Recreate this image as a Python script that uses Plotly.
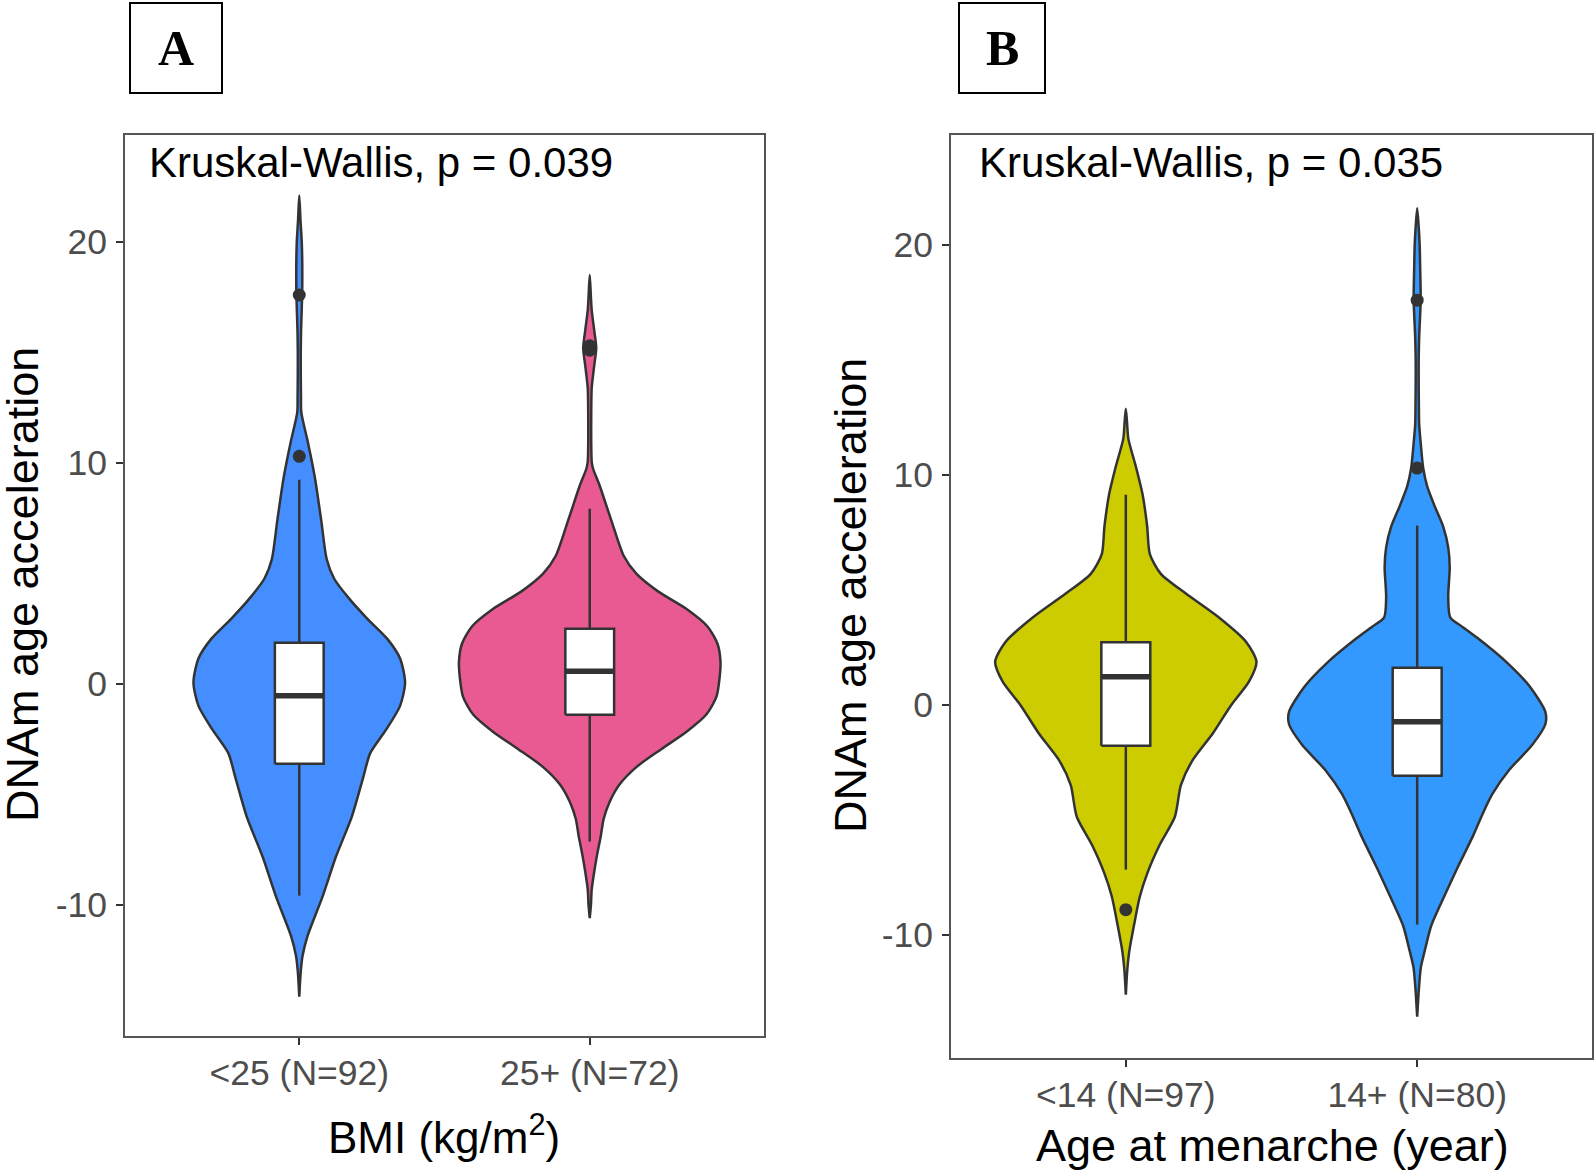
import plotly.graph_objects as go

W, H = 1594, 1170

# ---------------- data ----------------
cats_A = ["<25 (N=92)", "25+ (N=72)"]
cats_B = ["<14 (N=97)", "14+ (N=80)"]
yticks = [-10, 0, 10, 20]
yticklabels = ["-10", "0", "10", "20"]

# violin outlines: y value and half-width (density, read as px of half-width)
vA1_y = [22.1, 21.0, 20.0, 19.0, 18.0, 17.0, 16.0, 15.0, 14.0, 13.0, 12.3, 11.0, 10.2, 9.24, 7.4, 5.64,
         4.76, 3.86, 2.96, 2.05, 1.15, 0.07, -0.99, -2.07, -3.14, -4.24, -6.03, -7.82, -9.62, -11.4,
         -12.3, -13.0, -14.15]
vA1_d = [0, 1.2, 2.5, 3, 3, 2.5, 1.8, 1.5, 1.5, 1.7, 2, 8.3, 12, 16, 22, 27.5,
         35, 50, 68, 88, 101, 106, 101, 87, 71, 64, 52.5, 36.7, 23.3, 8.3,
         3.3, 1.5, 0]

vA2_y = [18.5, 17.5, 16.9, 16.0, 15.2, 14.4, 13.4, 12.0, 11.0, 10.05, 9.75, 8.97, 7.39, 5.8, 4.99, 4.2,
         3.4, 2.6, 1.82, 1.02, 0.23, -0.57, -1.37, -2.16, -2.94, -3.75, -4.54, -5.33, -6.1, -6.9,
         -7.7, -8.5, -9.3, -10.0, -10.6]
vA2_d = [0, 1.2, 2, 4.5, 6.5, 4.5, 2, 1.5, 1.5, 2, 3.3, 10, 21.7, 34, 46.7, 68,
         96.7, 118, 128, 131, 130, 127, 117, 97, 72, 47, 30, 20, 14, 11,
         7.5, 4.5, 2, 1.2, 0]

vB1_y = [12.88, 12.3, 11.58, 10.37, 9.16, 7.78, 6.56, 5.7, 4.84, 3.8, 2.75, 1.88, 1.01, -0.02, -1.23,
         -2.45, -3.49, -4.86, -6.07, -7.29, -8.33, -9.55, -10.76, -11.5, -12.6]
vB1_d = [0, 1.2, 2.5, 10, 16.7, 21.3, 24, 35, 60, 93, 120, 130.5, 123, 105, 87,
         66, 55, 49, 34, 21.7, 14, 8.3, 3.3, 1.5, 0]

vB2_y = [21.6, 20.8, 20.0, 19.0, 17.6, 16.0, 15.0, 14.0, 13.0, 12.2, 11.3, 10.3, 9.5, 8.64, 7.75, 6.85,
         5.97, 4.7, 3.81, 3.4, 2.92, 1.83, 0.77, -0.3, -0.84, -1.73, -2.82, -3.88, -4.77, -5.67,
         -7.1, -8.35, -9.6, -10.7, -11.4, -12.3, -13.55]
vB2_d = [0, 1.5, 2.5, 3, 3.5, 2, 1.5, 1.5, 1.7, 2, 3.7, 6, 10, 17.5, 26, 31,
         32.5, 31, 33, 45, 60, 90, 113, 128, 128, 115, 92, 75, 65, 56,
         40, 26.7, 14, 7.5, 3.7, 1.8, 0]

# box statistics: [group1, group2]
q1_A = [-3.61, -1.39]
med_A = [-0.53, 0.57]
q3_A = [1.87, 2.50]
lo_A = [-9.58, -7.13]
hi_A = [9.24, 7.93]
out_A = [[17.6, 10.3], [15.1, 15.3]]

q1_B = [-1.77, -3.08]
med_B = [1.23, -0.73]
q3_B = [2.73, 1.62]
lo_B = [-7.16, -9.55]
hi_B = [9.14, 7.80]
out_B = [[-8.9], [17.6, 10.3]]

p_A = "Kruskal-Wallis, p = 0.039"
p_B = "Kruskal-Wallis, p = 0.035"

# ---------------- styles ----------------
col_A = ["#448EFF", "#E95A93"]
col_B = ["#CCCC00", "#3399FF"]
DARK = "#333333"
DENS_TO_UNITS = 1 / 291.0
BOXW = 0.168
FONT = "Liberation Sans, Arial, sans-serif"


def px(x):
    return x / W


def py(y):
    return 1 - y / H


fig = go.Figure()


def add_violin(xa, ya, center, ys, ds, color):
    hw = [d * DENS_TO_UNITS for d in ds]
    xs = [center + w for w in hw] + [center - w for w in reversed(hw)]
    yy = list(ys) + list(reversed(ys))
    fig.add_trace(go.Scatter(x=xs, y=yy, xaxis=xa, yaxis=ya, mode="lines",
                             fill="toself", fillcolor=color,
                             line=dict(color=DARK, width=2.5, shape="spline", smoothing=0.7),
                             showlegend=False, hoverinfo="skip"))


def add_box(xa, ya, center, q1, med, q3, lo, hi, outs):
    fig.add_trace(go.Scatter(x=[center, center, None, center, center], y=[q3, hi, None, q1, lo],
                             xaxis=xa, yaxis=ya, mode="lines",
                             line=dict(color=DARK, width=2.5), showlegend=False, hoverinfo="skip"))
    l, r = center - BOXW / 2, center + BOXW / 2
    fig.add_trace(go.Scatter(x=[l, r, r, l, l], y=[q1, q1, q3, q3, q1], xaxis=xa, yaxis=ya,
                             mode="lines", fill="toself", fillcolor="white",
                             line=dict(color=DARK, width=2.5), showlegend=False, hoverinfo="skip"))
    fig.add_trace(go.Scatter(x=[l, r], y=[med, med], xaxis=xa, yaxis=ya, mode="lines",
                             line=dict(color=DARK, width=5.5), showlegend=False, hoverinfo="skip"))
    fig.add_trace(go.Scatter(x=[center] * len(outs), y=outs, xaxis=xa, yaxis=ya, mode="markers",
                             marker=dict(color=DARK, size=13), showlegend=False, hoverinfo="skip"))


vio_A = [(vA1_y, vA1_d), (vA2_y, vA2_d)]
vio_B = [(vB1_y, vB1_d), (vB2_y, vB2_d)]
for i in range(2):
    add_violin("x", "y", i + 1, vio_A[i][0], vio_A[i][1], col_A[i])
    add_box("x", "y", i + 1, q1_A[i], med_A[i], q3_A[i], lo_A[i], hi_A[i], out_A[i])
for i in range(2):
    add_violin("x2", "y2", i + 1, vio_B[i][0], vio_B[i][1], col_B[i])
    add_box("x2", "y2", i + 1, q1_B[i], med_B[i], q3_B[i], lo_B[i], hi_B[i], out_B[i])

axis_common = dict(showline=True, mirror=True, linecolor="#555555", linewidth=1.6,
                   showgrid=False, zeroline=False, ticks="outside", ticklen=7, tickwidth=1.5,
                   tickcolor=DARK, tickfont=dict(family=FONT, size=35.5, color="#4D4D4D"))

fig.update_layout(
    width=W, height=H, margin=dict(l=0, r=0, t=0, b=0),
    paper_bgcolor="white", plot_bgcolor="white", showlegend=False,
    xaxis=dict(domain=[px(125), px(764)], range=[0.4, 2.6], anchor="y",
               tickvals=[1, 2], ticktext=cats_A, ticklabelstandoff=-2, **axis_common),
    yaxis=dict(domain=[py(1036), py(135)], range=[-15.93, 24.84], anchor="x",
               tickvals=yticks, ticktext=yticklabels, ticklabelstandoff=2, **axis_common),
    xaxis2=dict(domain=[px(951), px(1592)], range=[0.4, 2.6], anchor="y2",
                tickvals=[1, 2], ticktext=cats_B, ticklabelstandoff=-2, **axis_common),
    yaxis2=dict(domain=[py(1058), py(135)], range=[-15.35, 24.78], anchor="x2",
                tickvals=yticks, ticktext=yticklabels, ticklabelstandoff=2, **axis_common),
)

ann = [
    dict(x=px(147), y=py(163), text=p_A, xanchor="left", yanchor="middle",
         font=dict(family=FONT, size=42, color="black")),
    dict(x=px(977), y=py(163), text=p_B, xanchor="left", yanchor="middle",
         font=dict(family=FONT, size=42, color="black")),
    dict(x=px(22), y=py(585), text="DNAm age acceleration", textangle=-90,
         xanchor="center", yanchor="middle", font=dict(family=FONT, size=45, color="black")),
    dict(x=px(850), y=py(596), text="DNAm age acceleration", textangle=-90,
         xanchor="center", yanchor="middle", font=dict(family=FONT, size=45, color="black")),
    dict(x=px(444), y=py(1134), text="BMI (kg/m<sup>2</sup>)", xanchor="center", yanchor="middle",
         font=dict(family=FONT, size=44, color="black")),
    dict(x=px(1272), y=py(1145), text="Age at menarche (year)", xanchor="center", yanchor="middle",
         font=dict(family=FONT, size=45, color="black")),
    dict(x=px(176), y=py(48), text="<b>A</b>", xanchor="center", yanchor="middle",
         font=dict(family="Liberation Serif, Times New Roman, serif", size=50, color="black")),
    dict(x=px(1002), y=py(48), text="<b>B</b>", xanchor="center", yanchor="middle",
         font=dict(family="Liberation Serif, Times New Roman, serif", size=50, color="black")),
]
for a in ann:
    a.update(xref="paper", yref="paper", showarrow=False)
fig.update_layout(annotations=ann)

fig.update_layout(shapes=[
    dict(type="rect", xref="paper", yref="paper", x0=px(130), x1=px(222), y0=py(93), y1=py(3),
         line=dict(color="black", width=2)),
    dict(type="rect", xref="paper", yref="paper", x0=px(959), x1=px(1045), y0=py(93), y1=py(3),
         line=dict(color="black", width=2)),
])

fig.write_html("out.html", config={"displayModeBar": False},
               post_script="document.body.style.margin='0';document.body.style.overflow='hidden';")
